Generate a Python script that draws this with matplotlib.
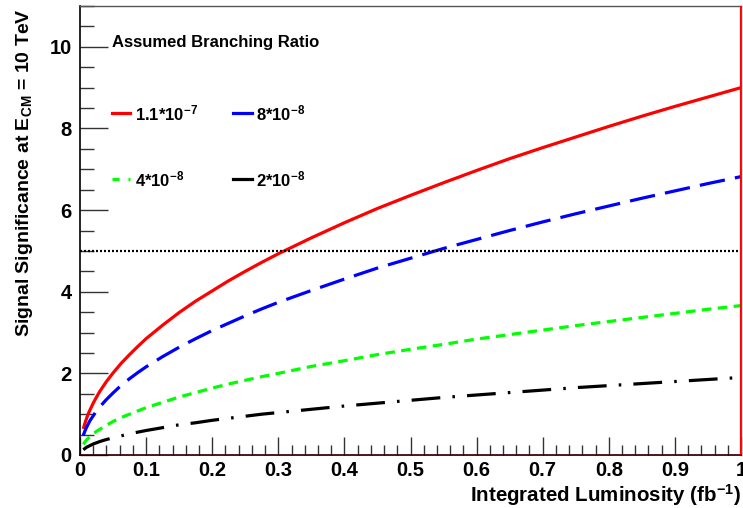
import matplotlib
matplotlib.use("Agg")
import matplotlib.pyplot as plt
from matplotlib.lines import Line2D
from matplotlib.ticker import MultipleLocator

plt.rcParams['font.family'] = ['Liberation Sans', 'DejaVu Sans']
plt.rcParams['font.weight'] = 'bold'
plt.rcParams['mathtext.fontset'] = 'custom'
plt.rcParams['mathtext.rm'] = 'Liberation Sans:bold'
plt.rcParams['mathtext.bf'] = 'Liberation Sans:bold'
plt.rcParams['mathtext.it'] = 'Liberation Sans:bold'
plt.rcParams['mathtext.default'] = 'bf'

# Integrated luminosity (fb^-1)
lumi = [0.005, 0.0075, 0.01, 0.0125, 0.015, 0.02, 0.025, 0.03, 0.04, 0.05, 0.0625,
        0.075, 0.0875, 0.1, 0.125, 0.15, 0.175, 0.2, 0.225, 0.25, 0.275, 0.3,
        0.35, 0.4, 0.45, 0.5, 0.55, 0.6, 0.65, 0.7, 0.75, 0.8, 0.85,
        0.9, 0.95, 1.0]

# Signal significance for each assumed branching ratio
sig_11e7 = [0.64, 0.78, 0.90, 1.01, 1.10, 1.27, 1.42, 1.56, 1.80, 2.01, 2.25,
            2.46, 2.66, 2.85, 3.18, 3.49, 3.77, 4.02, 4.27, 4.50, 4.72, 4.93,
            5.32, 5.69, 6.04, 6.36, 6.67, 6.97, 7.26, 7.53, 7.79, 8.05, 8.30,
            8.54, 8.77, 9.00]
sig_8e8 = [0.48, 0.59, 0.68, 0.76, 0.84, 0.96, 1.08, 1.18, 1.36, 1.52, 1.71,
           1.87, 2.02, 2.16, 2.41, 2.64, 2.85, 3.05, 3.23, 3.41, 3.58, 3.74,
           4.03, 4.31, 4.58, 4.82, 5.06, 5.28, 5.50, 5.71, 5.91, 6.10, 6.29,
           6.47, 6.65, 6.82]
sig_4e8 = [0.26, 0.32, 0.37, 0.41, 0.45, 0.52, 0.58, 0.63, 0.73, 0.82, 0.92,
           1.00, 1.08, 1.16, 1.29, 1.42, 1.53, 1.64, 1.74, 1.83, 1.92, 2.00,
           2.17, 2.31, 2.46, 2.59, 2.71, 2.84, 2.95, 3.06, 3.17, 3.27, 3.37,
           3.47, 3.57, 3.66]
sig_2e8 = [0.13, 0.16, 0.19, 0.21, 0.23, 0.27, 0.30, 0.33, 0.38, 0.42, 0.47,
           0.52, 0.56, 0.60, 0.67, 0.74, 0.79, 0.85, 0.90, 0.95, 1.00, 1.04,
           1.12, 1.20, 1.27, 1.34, 1.41, 1.47, 1.53, 1.59, 1.65, 1.70, 1.75,
           1.80, 1.85, 1.90]

labels = [r'1.1*10$^{-7}$', r'8*10$^{-8}$', r'4*10$^{-8}$', r'2*10$^{-8}$']
discovery_level = 5.0

fig = plt.figure(figsize=(7.43, 5.08), dpi=100)
ax = fig.add_axes([80 / 743, 1 - 455 / 508, 661 / 743, 449 / 508])

lw = 2.3
ax.plot(lumi, sig_11e7, color='#ff0000', lw=lw, solid_capstyle='butt')
ax.plot(lumi, sig_8e8, color='#0000ff', lw=lw, dashes=(8.0, 3.2))
ax.plot(lumi, sig_4e8, color='#00ff00', lw=lw, dashes=(3.0, 2.0))
ax.plot(lumi, sig_2e8, color='black', lw=lw, dashes=(9.0, 3.8, 0.8, 3.8))
ax.axhline(discovery_level, color='black', lw=1.6, dashes=(0.9, 0.9))

# red frame of the histogram
ax.axhline(0, color='#ff0000', lw=1.0, zorder=5)
ax.axvline(1.0, color='#ff0000', lw=1.6, zorder=5)

ax.set_xlim(0, 1)
ax.set_ylim(0, 11)
ax.xaxis.set_major_locator(MultipleLocator(0.1))
ax.xaxis.set_minor_locator(MultipleLocator(0.02))
ax.yaxis.set_major_locator(MultipleLocator(2))
ax.yaxis.set_minor_locator(MultipleLocator(0.5))
ax.set_xticks([0, 0.1, 0.2, 0.3, 0.4, 0.5, 0.6, 0.7, 0.8, 0.9, 1.0])
ax.set_xticklabels(['0', '0.1', '0.2', '0.3', '0.4', '0.5', '0.6', '0.7', '0.8', '0.9', '1'])
ax.tick_params(which='both', direction='in', top=False, right=False, width=1.0, color='#333333')
ax.tick_params(which='major', axis='x', length=13, pad=4, labelsize=14.5)
ax.tick_params(which='minor', axis='x', length=7)
ax.tick_params(which='major', axis='y', length=20, pad=6, labelsize=14.5)
ax.tick_params(which='minor', axis='y', length=10)
for lab in ax.get_xticklabels() + ax.get_yticklabels():
    lab.set_fontweight('bold')

for side in ['top', 'right']:
    ax.spines[side].set_color('#555555')
    ax.spines[side].set_linewidth(1.0)
ax.spines['left'].set_linewidth(1.2)
ax.spines['bottom'].set_linewidth(1.2)

ax.set_xlabel(r'Integrated Luminosity (fb$^{-1}$)', fontsize=14.8, fontweight='bold',
              loc='right', labelpad=2)
fig.text(25 / 743, 1 - 8 / 508, r'Signal Significance at E$_{\mathrm{CM}}$ = 10 TeV',
         rotation=90, ha='center', va='top', fontsize=14, fontweight='bold')

# legend
ax.text(0.048, 0.918, 'Assumed Branching Ratio', transform=ax.transAxes,
        fontsize=12, fontweight='bold', va='center', ha='left')
handles = [
    dict(color='#ff0000', ls='-'),
    dict(color='#0000ff', ls='-'),
    dict(color='#00ff00', dashes=(2.2, 2.8)),
    dict(color='black', ls='-'),
]
rows = [0.761, 0.761, 0.614, 0.614]
cols = [0.048, 0.232, 0.048, 0.232]
for h, lab, r, c in zip(handles, labels, rows, cols):
    ax.add_line(Line2D([c, c + 0.028], [r, r], transform=ax.transAxes, lw=lw, **h))
    ax.text(c + 0.035, r, lab, transform=ax.transAxes, fontsize=12,
            fontweight='bold', va='center', ha='left')

fig.savefig('out.png', dpi=100)
